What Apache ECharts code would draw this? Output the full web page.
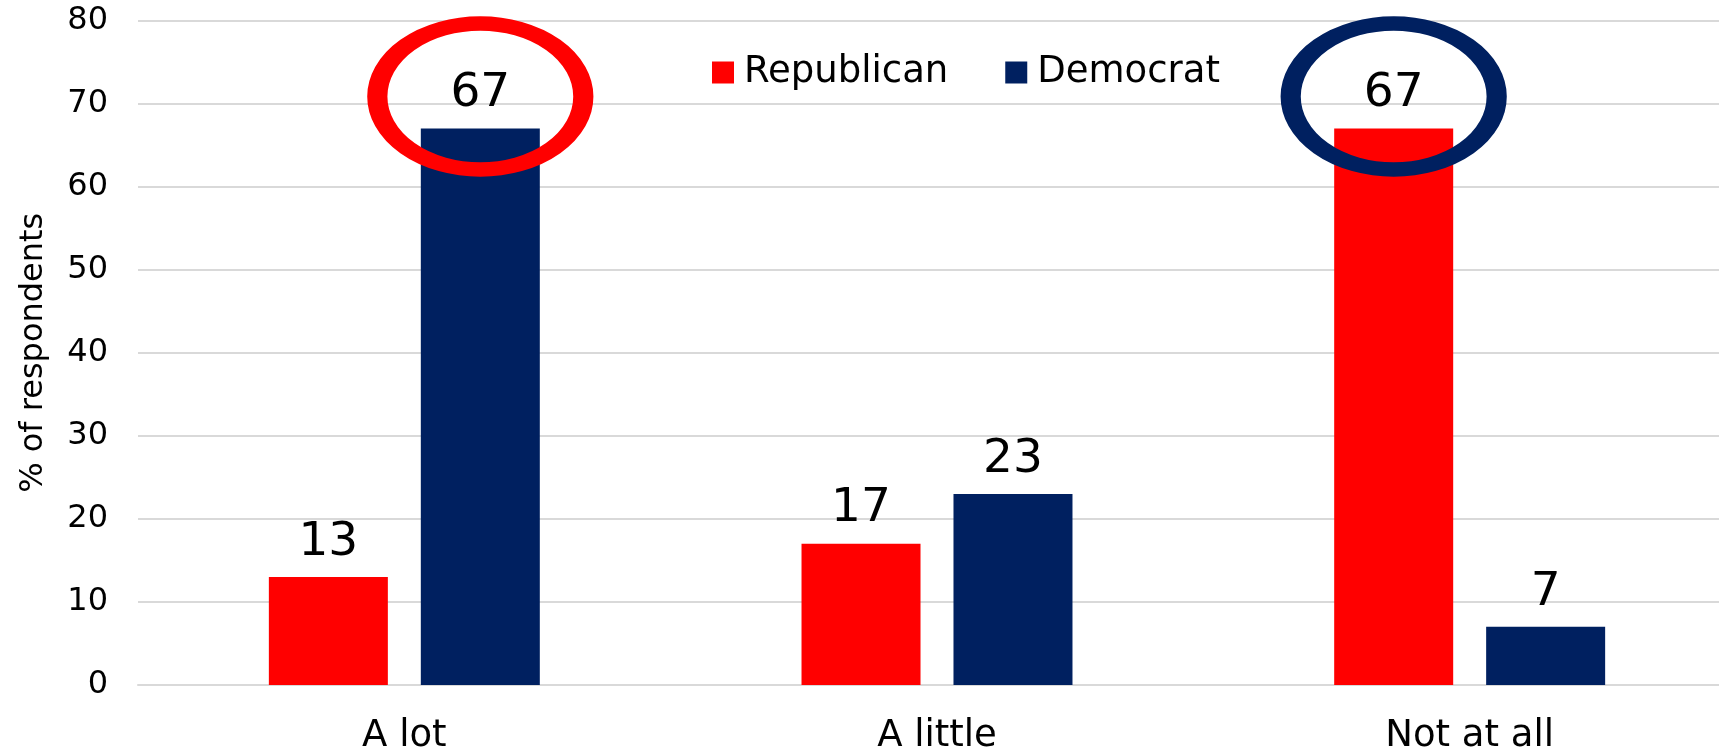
<!DOCTYPE html>
<html>
<head>
<meta charset="utf-8">
<title>Survey responses by party</title>
<script src="https://cdn.jsdelivr.net/npm/echarts@6/dist/echarts.min.js"></script>
<style>
  html, body { margin: 0; padding: 0; background: #ffffff; }
  #chart { width: 1719px; height: 752px; }
</style>
</head>
<body>
<div id="chart"></div>
<script>
// Response categories along the x axis
const categories = ['A lot', 'A little', 'Not at all'];

// Percent of respondents per party
const republican = [13, 17, 67];
const democrat = [67, 23, 7];

// Y axis range and step
const yMin = 0;
const yMax = 80;
const yStep = 10;

// Highlighted answers: [series name, category, value, ring colour]
const highlights = [
  ['Democrat', 'A lot', 67, '#FF0000'],
  ['Republican', 'Not at all', 67, '#002060']
];

const RED = '#FF0000';
const NAVY = '#002060';
const FONT = 'DejaVu Sans';

function ringsFor(seriesName) {
  return highlights
    .filter(h => h[0] === seriesName)
    .map(h => ({
      coord: [h[1], h[2]],
      itemStyle: { color: 'rgba(0,0,0,0)', borderColor: h[3], borderWidth: 17 }
    }));
}

function barSeries(name, values, color) {
  return {
    name: name,
    type: 'bar',
    data: values,
    barWidth: 119,
    barGap: '27.7%',
    itemStyle: { color: color },
    label: {
      show: true,
      position: 'top',
      distance: 11,
      color: '#000000',
      fontFamily: FONT,
      fontSize: 47
    },
    emphasis: { disabled: true },
    markPoint: {
      symbol: 'circle',
      symbolSize: [206, 146],
      symbolOffset: [0, -32],
      silent: true,
      label: { show: false },
      emphasis: { disabled: true },
      data: ringsFor(name)
    }
  };
}

const chart = echarts.init(document.getElementById('chart'), null, { renderer: 'canvas' });

chart.setOption({
  animation: false,
  backgroundColor: '#ffffff',
  grid: {
    left: 138,
    top: 20.5,
    width: 1598,
    height: 664.5,
    containLabel: false,
    outerBoundsMode: 'none'
  },
  legend: {
    data: ['Republican', 'Democrat'],
    left: 712,
    top: 54,
    padding: 0,
    icon: 'rect',
    itemWidth: 22,
    itemHeight: 22,
    itemGap: 57,
    textStyle: {
      fontFamily: FONT,
      fontSize: 37,
      color: '#000000',
      padding: [0, 0, 0, 5]
    }
  },
  xAxis: {
    type: 'category',
    data: categories,
    axisTick: { show: false },
    axisLine: { lineStyle: { color: '#d9d9d9', width: 2 } },
    axisLabel: { fontFamily: FONT, fontSize: 37, color: '#000000', margin: 33 }
  },
  yAxis: {
    type: 'value',
    min: yMin,
    max: yMax,
    interval: yStep,
    name: '% of respondents',
    nameLocation: 'middle',
    nameGap: 88,
    nameRotate: 90,
    nameTextStyle: { fontFamily: FONT, fontSize: 32, color: '#000000' },
    axisLine: { show: false },
    axisTick: { show: false },
    axisLabel: { fontFamily: FONT, fontSize: 32, color: '#000000', margin: 30 },
    splitLine: { lineStyle: { color: '#d9d9d9', width: 2 } }
  },
  series: [
    barSeries('Republican', republican, RED),
    barSeries('Democrat', democrat, NAVY)
  ]
});
</script>
</body>
</html>
